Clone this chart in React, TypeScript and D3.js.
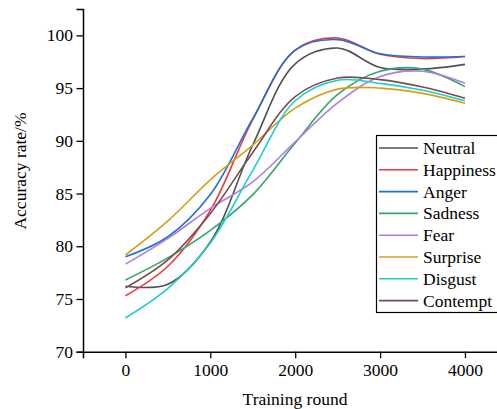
import { useEffect, useRef } from 'react';
import * as d3 from 'd3';

const rounds = [0, 500, 1000, 1500, 2000, 2500, 3000, 3500, 4000];
const neutral = [76.2, 76.4, 80.4, 89.6, 97.3, 98.8, 96.95, 96.8, 97.25];
const happiness = [75.3, 78.1, 83.4, 92.0, 98.6, 99.75, 98.2, 97.8, 98.0];
const anger = [79.0, 80.9, 84.9, 92.1, 98.6, 99.6, 98.25, 97.95, 98.0];
const sadness = [76.8, 78.9, 81.5, 84.9, 89.8, 94.4, 96.6, 96.8, 95.14];
const fear = [78.3, 80.75, 83.6, 86.1, 89.9, 93.6, 96.1, 96.6, 95.46];
const surprise = [79.17, 82.4, 86.3, 89.6, 93.1, 94.9, 95.0, 94.5, 93.57];
const disgust = [73.2, 76.0, 80.3, 87.2, 93.8, 95.75, 95.45, 94.8, 93.8];
const contempt = [76.05, 78.7, 83.1, 88.9, 94.2, 95.95, 95.8, 95.1, 94.04];

const names = ['Neutral', 'Happiness', 'Anger', 'Sadness', 'Fear', 'Surprise', 'Disgust', 'Contempt'];
const colors = ['#505050', '#f03a3a', '#1f6ee0', '#35a56a', '#b07de6', '#d3a01a', '#19cfcf', '#7b4b4b'];
const xTicks = [0, 1000, 2000, 3000, 4000];
const yTicks = [70, 75, 80, 85, 90, 95, 100];

const font = 'Liberation Serif';

export default function App() {
  const ref = useRef<SVGSVGElement>(null);

  useEffect(() => {
    const series = [neutral, happiness, anger, sadness, fear, surprise, disgust, contempt];
    const svg = d3.select(ref.current);
    svg.selectAll('*').remove();

    const x = d3.scaleLinear().domain([-500, 4500]).range([83, 507.4]);
    const y = d3.scaleLinear().domain([70, 102.5]).range([351.7, 9]);

    const line = d3.line<number>()
      .x((d, i) => x(rounds[i]))
      .y(d => y(d))
      .curve(d3.curveCatmullRom.alpha(0.5));

    svg.append('g')
      .selectAll('path')
      .data(series)
      .join('path')
      .attr('d', d => line(d))
      .attr('fill', 'none')
      .attr('stroke', (d, i) => colors[i])
      .attr('stroke-width', 1.6);

    // x axis, minor ticks every 500
    const xAxis = svg.append('g').attr('transform', `translate(0,${y(70)})`);
    xAxis.call(d3.axisBottom(x).tickValues(d3.range(-500, 4501, 500)).tickSize(3.5).tickFormat(() => ''));
    xAxis.call(d3.axisBottom(x).tickValues(xTicks).tickSize(6.5).tickFormat(d3.format('d')));
    xAxis.attr('font-family', font).attr('font-size', 17.5);
    xAxis.selectAll('.domain').attr('stroke-width', 1.5);
    xAxis.selectAll('line').attr('stroke-width', 1.3);
    xAxis.selectAll('text').attr('fill', '#000').attr('dy', '0.95em').attr('y', 8);

    // y axis, minor ticks every 2.5
    const yAxis = svg.append('g').attr('transform', `translate(${x(-500)},0)`);
    yAxis.call(d3.axisLeft(y).tickValues(d3.range(70, 102.6, 2.5)).tickSize(3.5).tickFormat(() => ''));
    yAxis.call(d3.axisLeft(y).tickValues(yTicks).tickSize(6.5).tickFormat(d3.format('d')));
    yAxis.attr('font-family', font).attr('font-size', 17.5);
    yAxis.selectAll('.domain').attr('stroke-width', 1.5);
    yAxis.selectAll('line').attr('stroke-width', 1.3);
    yAxis.selectAll('text').attr('fill', '#000').attr('x', -10);

    svg.append('text')
      .attr('x', (x(-500) + 497) / 2 + 5)
      .attr('y', 405)
      .attr('text-anchor', 'middle')
      .attr('font-family', font)
      .attr('font-size', 17.5)
      .text('Training round');

    svg.append('text')
      .attr('transform', 'translate(26,171) rotate(-90)')
      .attr('text-anchor', 'middle')
      .attr('font-family', font)
      .attr('font-size', 17.5)
      .text('Accuracy rate/%');

    // legend
    const legend = svg.append('g');
    legend.append('rect')
      .attr('x', 376.5).attr('y', 135.5)
      .attr('width', 140).attr('height', 177)
      .attr('fill', '#fff').attr('stroke', '#000').attr('stroke-width', 1.2);
    const rows = legend.selectAll('g.row')
      .data(names)
      .join('g')
      .attr('class', 'row')
      .attr('transform', (d, i) => `translate(0,${148 + i * 21.8})`);
    rows.append('line')
      .attr('x1', 379).attr('x2', 418)
      .attr('stroke', (d, i) => colors[i])
      .attr('stroke-width', 1.6);
    rows.append('text')
      .attr('x', 423).attr('y', 6)
      .attr('font-family', font)
      .attr('font-size', 17.5)
      .text(d => d);
  }, []);

  return (
    <div style={{ position: 'absolute', left: 0, top: 0 }}>
      <svg ref={ref} width={497} height={409} style={{ display: 'block', background: '#fff' }}></svg>
    </div>
  );
}
